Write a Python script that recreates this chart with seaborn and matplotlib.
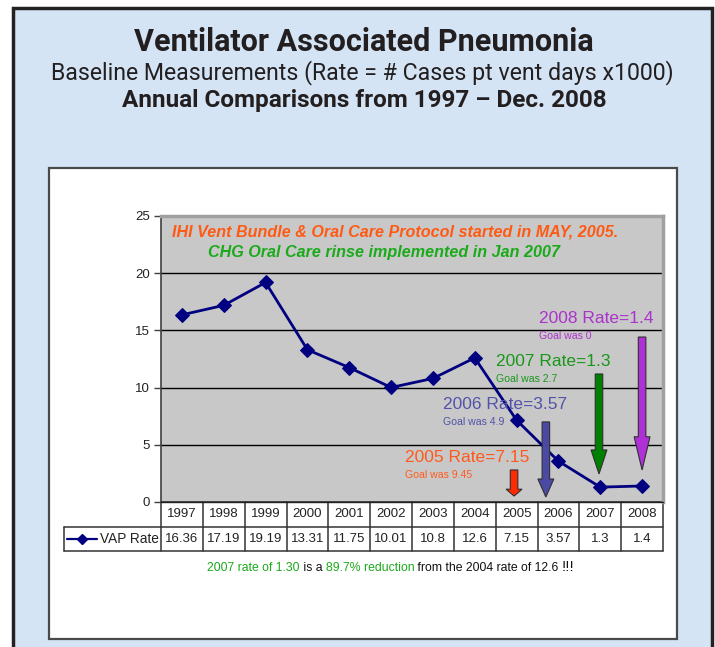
import matplotlib
matplotlib.use("Agg")
import matplotlib.pyplot as plt
import matplotlib.patches as mpatches
from matplotlib.lines import Line2D
from matplotlib.transforms import blended_transform_factory
import seaborn as sns
import pandas as pd

# chart data
years = ["1997", "1998", "1999", "2000", "2001", "2002",
         "2003", "2004", "2005", "2006", "2007", "2008"]
vap_rate = [16.36, 17.19, 19.19, 13.31, 11.75, 10.01, 10.8, 12.6, 7.15, 3.57, 1.3, 1.4]
rate_labels = ["16.36", "17.19", "19.19", "13.31", "11.75", "10.01",
               "10.8", "12.6", "7.15", "3.57", "1.3", "1.4"]
y_ticks = [0, 5, 10, 15, 20, 25]

# call-outs for the last four years
callout_titles = ["2005 Rate=7.15", "2006 Rate=3.57", "2007 Rate=1.3", "2008 Rate=1.4"]
callout_goals = ["Goal was 9.45", "Goal was 4.9", "Goal was 2.7", "Goal was 0"]
callout_colors = ["#ff5a1e", "#5252aa", "#1a961a", "#aa33cc"]
arrow_colors = ["#ff2a00", "#4a4aa5", "#008000", "#b030d8"]

df = pd.DataFrame({"pos": range(len(years)), "Year": years, "Rate": vap_rate})

sns.set_style("white")
plt.rcParams["font.family"] = ["Liberation Sans", "DejaVu Sans"]

W, H = 715, 647
fig = plt.figure(figsize=(W / 100, H / 100), dpi=100)
fig.patch.set_facecolor("white")


def fx(px):
    return px / W


def fy(py):
    return 1 - py / H


# light blue panel and the white chart box
fig.patches.append(mpatches.Rectangle((fx(13), fy(720)), fx(712) - fx(13), fy(8) - fy(720),
                                      transform=fig.transFigure, facecolor="#d4e4f4",
                                      edgecolor="#222222", lw=2.5, zorder=-2))
fig.patches.append(mpatches.Rectangle((fx(49), fy(639)), fx(677) - fx(49), fy(168) - fy(639),
                                      transform=fig.transFigure, facecolor="white",
                                      edgecolor="#4a4a4a", lw=1.6, zorder=-1))

# header
fig.text(fx(364), fy(42), "Ventilator Associated Pneumonia", ha="center", va="center",
         fontsize=22, fontweight="bold", family="Roboto", color="#231f20")
fig.text(fx(362), fy(73), "Baseline Measurements (Rate = # Cases pt vent days x1000)",
         ha="center", va="center", fontsize=16.7, family="Roboto", color="#231f20")
fig.text(fx(364), fy(101), "Annual Comparisons from 1997 \u2013 Dec. 2008", ha="center",
         va="center", fontsize=17.5, fontweight="bold", family="Roboto", color="#231f20")

ax = fig.add_axes([fx(161), fy(502), (663 - 161) / W, (502 - 216) / H])
ax.set_zorder(2)
ax.set_facecolor("#c8c8c8")

sns.lineplot(data=df, x="pos", y="Rate", ax=ax, color="#000080", lw=2,
             marker="D", markersize=7.5, markeredgecolor="#000080", zorder=5)

ax.set_xlim(-0.5, len(years) - 0.5)
ax.set_ylim(0, 25)
ax.set_yticks(y_ticks)
ax.set_xticks([])
ax.set_xlabel("")
ax.set_ylabel("")
ax.yaxis.grid(True, color="black", lw=1)
ax.set_axisbelow(True)
ax.tick_params(axis="y", left=True, length=5, width=1, color="#404040",
               labelsize=9.5, labelcolor="#222222", pad=3)
for side in ["top", "right"]:
    ax.spines[side].set_color("#a0a0a0")
    ax.spines[side].set_linewidth(2.5)
ax.spines["left"].set_color("#404040")
ax.spines["left"].set_linewidth(1.2)
ax.spines["bottom"].set_color("#222222")
ax.spines["bottom"].set_linewidth(1)

# notes inside the plot
ax.text(-0.237, 23.6, "IHI Vent Bundle & Oral Care Protocol started in MAY, 2005.",
        color="#ff5a14", fontsize=11.6, fontweight="bold", style="italic", va="center")
ax.text(0.624, 21.85, "CHG Oral Care rinse implemented in Jan 2007",
        color="#1aaa1a", fontsize=11.6, fontweight="bold", style="italic", va="center")

title_pos = [(5.33, 3.85), (6.24, 8.48), (7.51, 12.24), (8.54, 16.0)]
for (tx, ty), t, g, c in zip(title_pos, callout_titles, callout_goals, callout_colors):
    ax.text(tx, ty, t, color=c, fontsize=12.5, va="center", zorder=6)
    ax.text(tx, ty - 1.49, g, color=c, fontsize=7.6, va="center", zorder=6)

# block arrows: x, top, bottom, head length
arrow_x = [7.94, 8.70, 9.97, 11.0]
arrow_top = [2.80, 7.0, 11.19, 14.42]
arrow_bottom = [0.52, 0.44, 2.45, 2.80]
arrow_head = [0.6, 1.57, 2.1, 2.9]
for x, t, b, hl, c in zip(arrow_x, arrow_top, arrow_bottom, arrow_head, arrow_colors):
    ax.add_patch(mpatches.FancyArrow(x, t, 0, b - t, width=0.18, head_width=0.38,
                                     head_length=hl, length_includes_head=True,
                                     facecolor=c, edgecolor="#303030", lw=0.8, zorder=7))

# data table under the plot
trans = blended_transform_factory(ax.transData, ax.transAxes)
r0, r1, r2 = 0, -0.0874, -0.171
x_leg = -2.82
n = len(years)
lk = dict(transform=trans, color="#333333", lw=1.1, clip_on=False)
ax.add_line(Line2D([-0.5, n - 0.5], [r0, r0], **lk))
ax.add_line(Line2D([x_leg, n - 0.5], [r1, r1], **lk))
ax.add_line(Line2D([x_leg, n - 0.5], [r2, r2], **lk))
ax.add_line(Line2D([x_leg, x_leg], [r1, r2], **lk))
for i in range(n + 1):
    ax.add_line(Line2D([i - 0.5, i - 0.5], [r0, r2], **lk))
for i in range(n):
    ax.text(i, (r0 + r1) / 2, years[i], transform=trans, ha="center", va="center",
            fontsize=9.5, color="#222222")
    ax.text(i, (r1 + r2) / 2, rate_labels[i], transform=trans, ha="center", va="center",
            fontsize=9.5, color="#222222")
ax.add_line(Line2D([x_leg + 0.08, x_leg + 0.8], [(r1 + r2) / 2] * 2, transform=trans,
                   color="#000080", lw=1.6, clip_on=False))
ax.add_line(Line2D([x_leg + 0.44], [(r1 + r2) / 2], transform=trans, marker="D",
                   markersize=5, color="#000080", clip_on=False))
ax.text(-0.56, (r1 + r2) / 2, "VAP Rate", transform=trans, ha="right", va="center",
        fontsize=9.8, color="#222222")

# footnote with mixed colours
pieces = [("2007 rate of 1.30", "#1aaa1a", 8.8), (" is a ", "#111111", 8.8),
          ("89.7% reduction", "#1aaa1a", 8.8), (" from the 2004 rate of 12.6 ", "#111111", 8.8),
          ("!!!", "#111111", 11)]
prev = fig.text(fx(207), fy(571), pieces[0][0], color=pieces[0][1], fontsize=pieces[0][2],
                va="baseline")
for txt, col, fs in pieces[1:]:
    prev = ax.annotate(txt, xy=(1, 0), xycoords=prev, va="bottom", color=col,
                       fontsize=fs, annotation_clip=False)

fig.savefig("out.png", dpi=100, facecolor=fig.get_facecolor())
